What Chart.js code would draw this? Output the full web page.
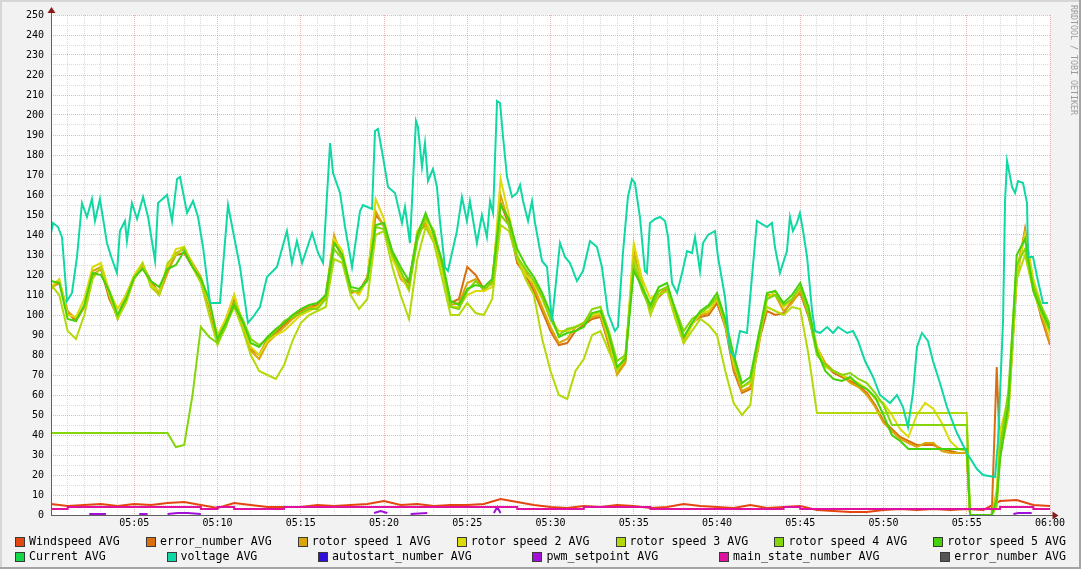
<!DOCTYPE html>
<html>
<head>
<meta charset="utf-8">
<style>
html, body { margin: 0; padding: 0; background: #f2f2f2; }
canvas { display: block; }
</style>
<script src="https://cdn.jsdelivr.net/npm/chart.js@4.4.0/dist/chart.umd.min.js"></script>
</head>
<body>
<canvas id="c" width="1081" height="569"></canvas>
<script>
const MONO = '"DejaVu Sans Mono", monospace';

const seriesNames = [
    'Windspeed AVG', 'error_number AVG', 'rotor speed 1 AVG', 'rotor speed 2 AVG',
    'rotor speed 3 AVG', 'rotor speed 4 AVG', 'rotor speed 5 AVG',
    'Current AVG', 'voltage AVG', 'autostart_number AVG', 'pwm_setpoint AVG',
    'main_state_number AVG', 'error_number AVG'
];
const seriesColors = [
    '#e4460f', '#d9700f', '#dba60a', '#dbdb0a', '#b2da0a', '#84d60a', '#46d20a',
    '#14d848', '#10d8a4', '#3010d8', '#a010d8', '#e010a0', '#555555'
];

// minutes after 05:00
const minuteTimes = [0,1,2,3,4,5,6,7,8,9,10,11,12,13,14,15,16,17,18,19,20,21,22,23,24,25,26,27,28,29,
    30,31,32,33,34,35,36,37,38,39,40,41,42,43,44,45,46,47,48,49,50,51,52,53,54,55,56,57,58,59,60];

const clusterTimes = [0,0.5,1,1.5,2,2.5,3,3.5,4,4.5,5,5.5,6,6.5,7,7.5,8,8.5,9,9.5,
    10,10.5,11,11.5,12,12.5,13,13.5,14,14.5,15,15.5,16,16.5,17,17.5,18,18.5,19,19.5,
    20,20.5,21,21.5,22,22.5,23,23.5,24,24.5,25,25.5,26,26.5,27,27.5,28,28.5,29,29.5,
    30,30.5,31,31.5,32,32.5,33,33.5,34,34.5,35,35.5,36,36.5,37,37.5,38,38.5,39,39.5,
    40,40.5,41,41.5,42,42.5,43,43.5,44,44.5,45,45.5,46,46.5,47,47.5,48,48.5,49,49.5,
    50,50.5,51,51.5,52,52.5,53,53.5,54,54.5,
    55,
    55.2,55.5,56,56.5,56.8,57,57.5,58,58.5,59,59.5,60];

const windspeed = [5.5,4.5,5,5.5,4.5,5.5,5,6,6.5,5,
    3.5,6,5,4,4,4,5,4.5,5,5.5,
    7,5,5.5,4.5,5,5,5.5,8,6.5,5,
    4,3.5,4.5,4,5,4.5,3.5,4,5.5,4.5,
    4,3.5,5,3.5,4,4.5,2.5,2,1.5,1.5,
    2.5,3,2.5,3,2.5,3,2.5,7,7.5,5,
    4.5];

const errorNumber = [114,116,101,97,104,120,123,108,99,110,
    119,125,117,111,122,130,131,124,118,104,
    86,96,108,95,83,80,88,91,95,99,
    102,104,105,109,137,129,111,112,119,150,
    145,131,120,116,141,145,137,125,106,108,
    124,120,113,116,156,145,126,120,112,102,
    92,85,86,92,95,98,99,85,71,77,
    130,113,103,109,113,101,87,96,99,100,
    106,94,72,61,63,86,102,100,101,107,
    111,99,83,75,71,69,67,65,61,55,
    47,43,39,37,35,35,35,33,32,31,
    31,
    0,0,0,0,74,30,52,118,143,114,98,85];

const rotor1 = [113,117,102,98,104,122,124,110,98,110,
    118,124,116,110,121,131,133,126,119,105,
    88,98,110,96,82,78,86,90,94,98,
    101,104,104,110,140,128,112,111,118,152,
    144,130,118,114,140,146,138,124,105,106,
    116,118,112,117,160,146,128,122,114,104,
    94,86,88,94,96,99,100,86,70,76,
    132,114,104,110,114,100,86,96,100,101,
    108,96,74,62,64,84,110,110,102,106,
    112,100,84,76,72,70,66,64,60,54,
    46,42,38,36,34,36,36,32,31,31,
    31,
    0,0,0,0,12,36,56,122,142,116,100,86];

const rotor2 = [114,118,100,99,108,124,126,112,103,110,
    120,126,115,112,124,133,134,125,118,106,
    90,98,110,96,84,80,87,90,92,96,
    100,102,104,108,138,132,113,110,118,158,
    148,128,120,112,142,148,136,122,104,104,
    110,112,112,114,168,150,130,120,116,108,
    98,92,92,94,96,100,101,88,72,78,
    136,118,108,112,114,100,86,95,101,102,
    108,95,76,64,66,86,108,112,104,108,
    114,103,84,74,72,70,68,66,63,58,
    56,50,43,39,50,56,53,46,37,33,
    32,
    0,0,0,0,10,42,58,120,140,118,104,90];

const rotor3 = [115,110,92,88,100,118,124,110,98,106,
    118,126,114,110,126,130,134,124,116,100,
    85,95,104,93,80,72,70,68,75,87,
    96,100,102,104,128,126,110,103,108,140,
    142,124,110,98,128,144,136,118,100,100,
    106,101,100,108,145,142,128,118,110,88,
    72,60,58,72,78,90,92,82,72,80,
    128,116,100,110,112,98,86,92,98,95,
    90,72,56,50,55,90,104,102,100,104,
    103,80,51,51,51,51,51,51,51,51,
    51,51,51,51,51,51,51,51,51,51,
    51,
    0,0,0,0,4,30,50,118,130,112,100,92];

const rotor4 = [41,41,41,41,41,41,41,41,41,41,
    41,41,41,41,41,34,35,60,94,89,
    86,94,106,98,88,85,88,92,97,99,
    101,103,103,108,133,128,112,112,118,144,
    143,130,122,113,137,149,142,125,104,103,
    112,117,113,116,150,145,129,123,117,109,
    98,90,93,94,96,103,104,92,77,80,
    125,112,103,112,114,103,92,98,101,104,
    109,96,78,64,67,88,108,110,105,108,
    114,100,80,75,72,70,71,68,66,61,
    55,45,45,45,45,45,45,45,45,45,
    45,
    0,0,0,0,6,34,62,125,133,115,104,95];

const rotor5 = [117,116,98,97,105,121,120,112,100,108,
    119,123,117,114,123,125,132,124,118,108,
    88,96,105,97,86,84,89,93,96,100,
    103,105,106,110,136,130,114,113,117,145,
    146,132,124,117,140,151,140,127,107,105,
    113,115,114,118,155,148,133,125,119,111,
    101,89,91,92,94,101,102,90,74,78,
    122,114,105,114,116,102,89,96,102,105,
    111,98,80,66,69,90,111,112,106,110,
    116,104,82,72,68,67,69,65,63,59,
    50,40,37,33,33,33,33,33,33,33,
    33,
    0,0,0,0,8,28,55,130,138,112,102,93];

const voltageTimes = [0,0.12,0.42,0.66,0.96,1.26,1.56,1.86,2.16,2.46,
    2.64,2.94,3.36,3.66,3.96,4.14,4.44,4.56,4.86,5.17,
    5.53,5.83,6.25,6.43,6.97,7.27,7.57,7.75,8.17,8.53,
    8.83,9.13,9.55,10.15,10.63,10.93,11.35,11.83,12.13,12.55,
    12.97,13.57,14.17,14.47,14.77,15.08,15.68,16.04,16.34,16.76,
    16.94,17.36,17.66,18.08,18.56,18.74,19.28,19.46,19.64,19.94,
    20.24,20.66,21.08,21.26,21.56,21.92,22.04,22.28,22.46,22.64,
    22.94,23.18,23.36,23.66,23.84,24.38,24.68,24.98,25.16,25.58,
    25.88,26.18,26.37,26.55,26.79,26.97,27.15,27.39,27.69,27.99,
    28.17,28.35,28.65,28.89,29.07,29.49,29.79,30.09,30.57,30.87,
    31.17,31.59,31.95,32.37,32.79,33.09,33.45,33.87,34.05,34.35,
    34.65,34.89,35.07,35.37,35.67,35.79,35.97,36.28,36.58,36.88,
    37.06,37.30,37.60,37.90,38.20,38.50,38.68,38.98,39.16,39.46,
    39.88,40.06,40.48,40.78,41.08,41.38,41.80,42.40,43.00,43.30,
    43.48,43.78,44.20,44.38,44.56,44.80,44.98,45.17,45.41,45.71,
    45.89,46.19,46.61,46.97,47.27,47.81,48.17,48.47,48.89,49.37,
    49.79,50.39,50.81,51.17,51.47,51.77,52.01,52.31,52.49,52.67,
    52.97,53.39,53.81,54.41,55.01,55.61,55.98,56.70,56.88,57.18,
    57.30,57.42,57.72,57.90,58.08,58.38,58.62,58.68,58.98,59.28,
    59.58,59.88];

const voltage = [141,146,144,139,107,111,129,156,149,158,
    147,158,136,128,121,142,147,137,156,148,
    159,149,127,156,160,147,168,169,151,157,
    149,134,106,106,155,142,124,96,99,104,
    119,124,142,126,137,126,141,131,126,186,
    171,161,144,124,152,155,153,192,193,179,
    164,161,146,154,136,197,194,174,186,167,
    173,164,147,124,122,142,159,147,157,136,
    150,139,157,151,207,206,189,169,159,161,
    165,157,147,157,146,127,124,97,136,129,
    126,117,122,137,134,124,101,92,94,131,
    159,168,166,149,122,121,146,148,149,147,
    139,116,111,121,132,131,139,122,136,140,
    142,129,109,82,79,92,91,147,144,146,
    134,121,132,149,142,146,151,142,129,102,
    92,91,94,91,94,91,92,87,77,69,
    60,56,60,54,44,61,84,91,89,87,
    77,66,54,41,31,23,20,19,37,97,
    157,177,164,161,167,166,156,129,129,117,
    106,106];

// pwm only shows up in short blips; null = nothing drawn
const pwmTimes = [2.3,3.3,3.4,5.3,5.8,5.9,7.0,7.6,8.2,9.0,9.1,
    19.4,19.8,20.2,20.3,21.6,22.6,22.7,26.6,26.8,27.0,27.1,57.8,58.1,58.9,59.0];
const pwmSetpoint = [0.5,0.5,null,0.5,0.5,null,0.5,1,1,0.5,null,
    1,2,1,null,0.5,1,null,1,4,1,null,0.5,1,1,null];

const mainState = [4,3,4,4,4,4,4,4,4,4,
    3,4,3,3,3,4,4,4,4,4,
    4,4,4,4,4,4,4,4,4,3,
    3,3,3,4,4,4,4,3,3,3,
    3,3,3,3,3,4,3,3,3,3,
    3,3,3,3,3,3,3,3,4,4,
    3];

function pts(times, vals) {
    return times.map((t, i) => ({ x: t, y: vals[i] }));
}

const seriesData = [
    pts(minuteTimes, windspeed),
    pts(clusterTimes, errorNumber),
    pts(clusterTimes, rotor1),
    pts(clusterTimes, rotor2),
    pts(clusterTimes, rotor3),
    pts(clusterTimes, rotor4),
    pts(clusterTimes, rotor5),
    [],
    pts(voltageTimes, voltage),
    [],
    pts(pwmTimes, pwmSetpoint),
    pts(minuteTimes, mainState),
    []
];

const MAJOR = 'rgba(228,150,150,0.7)';
const MINOR = 'rgba(205,205,205,0.75)';

function timeLabel(v) {
    if (v === 60) return '06:00';
    return '05:' + (v < 10 ? '0' + v : v);
}

const frame = {
    id: 'frame',
    beforeDraw(chart) {
        const { ctx, chartArea: a, width: W, height: H } = chart;
        ctx.save();
        ctx.fillStyle = '#f2f2f2';
        ctx.fillRect(0, 0, W, H);
        ctx.fillStyle = '#d6d6d6';
        ctx.fillRect(0, 0, W, 2);
        ctx.fillRect(0, 0, 2, H);
        ctx.fillStyle = '#a4a4a4';
        ctx.fillRect(0, H - 2, W, 2);
        ctx.fillRect(W - 2, 0, 2, H);
        ctx.fillStyle = '#ffffff';
        ctx.fillRect(a.left, a.top, a.right - a.left, a.bottom - a.top);
        ctx.restore();
    },
    afterDatasetsDraw(chart) {
        const { ctx, chartArea: a } = chart;
        ctx.save();
        ctx.fillStyle = '#606060';
        ctx.fillRect(a.left, a.bottom, 1053 - a.left, 1);
        ctx.fillRect(a.left, 12, 1, a.bottom - 12 + 1);
        ctx.fillStyle = '#8b1a1a';
        ctx.beginPath();
        ctx.moveTo(a.left - 3.5, 13);
        ctx.lineTo(a.left + 4.5, 13);
        ctx.lineTo(a.left + 0.5, 7);
        ctx.closePath();
        ctx.fill();
        ctx.beginPath();
        ctx.moveTo(1052.5, a.bottom - 3.5);
        ctx.lineTo(1052.5, a.bottom + 4.5);
        ctx.lineTo(1058.5, a.bottom + 0.5);
        ctx.closePath();
        ctx.fill();
        ctx.restore();
    },
    afterDraw(chart) {
        const ctx = chart.ctx;
        ctx.save();
        // legend, justified over two rows like rrdtool does
        ctx.font = '11.6px ' + MONO;
        ctx.textBaseline = 'middle';
        const rows = [[0, 7], [7, 13]];
        const rowY = [541.5, 556.5];
        const left = 15, right = 1066;
        rows.forEach(([from, to], r) => {
            const names = seriesNames.slice(from, to);
            const widths = names.map(n => 14 + ctx.measureText(n).width);
            const total = widths.reduce((s, w) => s + w, 0);
            const gap = (right - left - total) / (names.length - 1);
            let x = left;
            names.forEach((n, k) => {
                const y0 = Math.round(rowY[r] - 5);
                ctx.fillStyle = '#3a3a3a';
                ctx.fillRect(Math.round(x), y0, 10, 10);
                ctx.fillStyle = seriesColors[from + k];
                ctx.fillRect(Math.round(x) + 1, y0 + 1, 8, 8);
                ctx.fillStyle = '#000';
                ctx.fillText(n, x + 14, rowY[r]);
                x += widths[k] + gap;
            });
        });
        // watermark
        ctx.translate(1073, 5);
        ctx.rotate(Math.PI / 2);
        ctx.font = '8.3px ' + MONO;
        ctx.fillStyle = '#9a9a9a';
        ctx.textBaseline = 'middle';
        ctx.fillText('RRDTOOL / TOBI OETIKER', 0, 0);
        ctx.restore();
    }
};

new Chart(document.getElementById('c'), {
    type: 'line',
    data: {
        datasets: seriesNames.map((name, i) => ({
            label: name,
            data: seriesData[i],
            borderColor: seriesColors[i],
            backgroundColor: seriesColors[i],
            borderWidth: 2,
            pointRadius: 0,
            fill: false,
            tension: 0,
            spanGaps: false,
            stepped: i === 11 ? 'after' : false,
            order: -i
        }))
    },
    options: {
        responsive: false,
        animation: false,
        devicePixelRatio: 1,
        events: [],
        layout: { padding: { left: 0, right: 31, top: 15, bottom: 0 } },
        plugins: { legend: { display: false }, tooltip: { enabled: false } },
        scales: {
            x: {
                type: 'linear',
                min: 0,
                max: 60,
                afterFit: s => { s.height = 54; },
                grid: {
                    drawTicks: false,
                    lineWidth: 1,
                    color: c => (c.tick && c.tick.value % 5 === 0) ? MAJOR : MINOR
                },
                border: { display: false, dash: [1, 1] },
                ticks: {
                    stepSize: 1,
                    autoSkip: false,
                    maxRotation: 0,
                    padding: 2,
                    color: '#000',
                    font: { family: MONO, size: 10 },
                    callback: v => (v % 5 === 0 && v > 0) ? timeLabel(v) : ''
                }
            },
            y: {
                min: 0,
                max: 250,
                afterFit: s => { s.width = 51; },
                grid: {
                    drawTicks: false,
                    lineWidth: 1,
                    color: c => (c.tick && c.tick.value % 10 === 0) ? MAJOR : MINOR
                },
                border: { display: false, dash: [1, 1] },
                ticks: {
                    stepSize: 5,
                    autoSkip: false,
                    padding: 7,
                    color: '#000',
                    font: { family: MONO, size: 10 },
                    callback: v => (v % 10 === 0) ? String(v) : ''
                }
            }
        }
    },
    plugins: [frame]
});
</script>
</body>
</html>
